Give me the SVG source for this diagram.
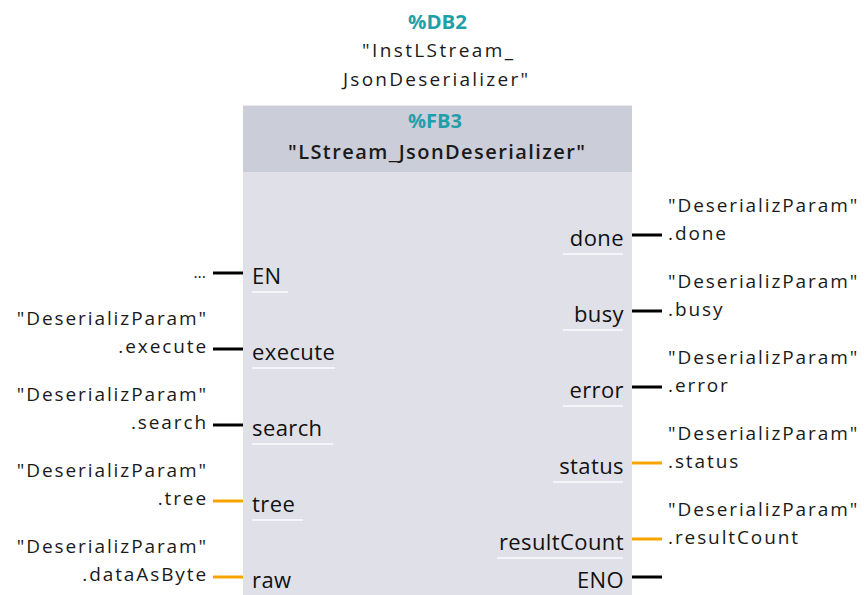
<svg xmlns="http://www.w3.org/2000/svg" width="865" height="595" viewBox="0 0 865 595">
<style>
.t{font-family:"Open Sans","Noto Sans","Liberation Sans",sans-serif;fill:#1a1a1a}
.hdr{font-size:20px;font-weight:700;fill:#1fa0a8}
.inst{font-size:19px}
.fb{font-size:20px;font-weight:600}
.pin{font-size:22px;letter-spacing:0.4px;fill:#111}
.lbl{font-size:19px;letter-spacing:1.9px}
.ul{stroke:#f4f5f8;stroke-width:2}
.w{stroke-width:3;fill:none}
.b{stroke:#000}
.o{stroke:#f7a400}
</style>
<rect width="865" height="595" fill="#ffffff"/>
<g id="instance">
<text class="t hdr" x="408" y="29" textLength="59" lengthAdjust="spacingAndGlyphs">%DB2</text>
<text class="t inst" x="362" y="57" textLength="151">"InstLStream_</text>
<text class="t inst" x="343" y="86" textLength="185">JsonDeserializer"</text>
</g>
<g id="block">
<rect x="243" y="105" width="389" height="490" fill="#dfe0e8"/>
<rect x="243" y="105" width="389" height="67" fill="#cbcdd9"/>
<line x1="243" y1="105.5" x2="632" y2="105.5" stroke="#e9eaef" stroke-width="1"/>
<text class="t hdr" x="408" y="128" textLength="54" lengthAdjust="spacingAndGlyphs">%FB3</text>
<text class="t fb" x="288" y="159" textLength="297">"LStream_JsonDeserializer"</text>
<text class="t pin" x="252" y="284">EN</text>
<line class="ul" x1="252" y1="292" x2="288" y2="292"/>
<text class="t pin" x="252" y="360">execute</text>
<line class="ul" x1="252" y1="368" x2="335" y2="368"/>
<text class="t pin" x="252" y="436">search</text>
<line class="ul" x1="252" y1="444" x2="333" y2="444"/>
<text class="t pin" x="252" y="512">tree</text>
<line class="ul" x1="252" y1="520" x2="303" y2="520"/>
<text class="t pin" x="252" y="588">raw</text>
<text class="t pin" x="624" y="246" text-anchor="end">done</text>
<line class="ul" x1="563" y1="254" x2="623" y2="254"/>
<text class="t pin" x="624" y="322" text-anchor="end">busy</text>
<line class="ul" x1="563" y1="330" x2="623" y2="330"/>
<text class="t pin" x="624" y="398" text-anchor="end">error</text>
<line class="ul" x1="563" y1="406" x2="623" y2="406"/>
<text class="t pin" x="624" y="474" text-anchor="end">status</text>
<line class="ul" x1="553" y1="482" x2="623" y2="482"/>
<text class="t pin" x="624" y="550" text-anchor="end">resultCount</text>
<line class="ul" x1="497" y1="558" x2="623" y2="558"/>
<text class="t pin" x="624" y="588" text-anchor="end">ENO</text>
</g>
<g id="connectors">
<line class="w b" x1="213" y1="273" x2="243" y2="273"/>
<line class="w b" x1="213" y1="349" x2="243" y2="349"/>
<line class="w b" x1="213" y1="425" x2="243" y2="425"/>
<line class="w o" x1="213" y1="501" x2="243" y2="501"/>
<line class="w o" x1="213" y1="577" x2="243" y2="577"/>
<line class="w b" x1="632" y1="235" x2="662" y2="235"/>
<line class="w b" x1="632" y1="311" x2="662" y2="311"/>
<line class="w b" x1="632" y1="387" x2="662" y2="387"/>
<line class="w o" x1="632" y1="463" x2="662" y2="463"/>
<line class="w o" x1="632" y1="539" x2="662" y2="539"/>
<line class="w b" x1="632" y1="577" x2="662" y2="577"/>
</g>
<g id="labels-in">
<text class="t" x="206" y="278" text-anchor="end" style="font-size:16px">...</text>
<text class="t lbl" x="208" y="325" text-anchor="end">"DeserializParam"</text>
<text class="t lbl" x="208" y="353" text-anchor="end">.execute</text>
<text class="t lbl" x="208" y="401" text-anchor="end">"DeserializParam"</text>
<text class="t lbl" x="208" y="429" text-anchor="end">.search</text>
<text class="t lbl" x="208" y="477" text-anchor="end">"DeserializParam"</text>
<text class="t lbl" x="208" y="505" text-anchor="end">.tree</text>
<text class="t lbl" x="208" y="553" text-anchor="end">"DeserializParam"</text>
<text class="t lbl" x="208" y="581" text-anchor="end">.dataAsByte</text>
</g>
<g id="labels-out">
<text class="t lbl" x="668" y="212">"DeserializParam"</text>
<text class="t lbl" x="668" y="240">.done</text>
<text class="t lbl" x="668" y="288">"DeserializParam"</text>
<text class="t lbl" x="668" y="316">.busy</text>
<text class="t lbl" x="668" y="364">"DeserializParam"</text>
<text class="t lbl" x="668" y="392">.error</text>
<text class="t lbl" x="668" y="440">"DeserializParam"</text>
<text class="t lbl" x="668" y="468">.status</text>
<text class="t lbl" x="668" y="516">"DeserializParam"</text>
<text class="t lbl" x="668" y="544">.resultCount</text>
</g>
</svg>
